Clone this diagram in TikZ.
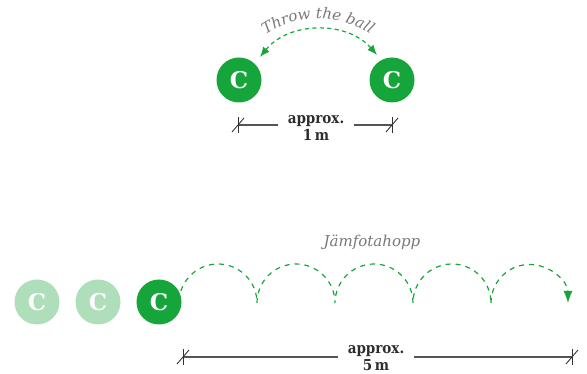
\documentclass[tikz,border=0pt]{standalone}
\usepackage{fontspec}
\setmainfont{DejaVu Serif}
\newfontfamily\dimfont{DejaVu Serif Condensed}
\usetikzlibrary{arrows.meta,decorations.text}
\definecolor{kgreen}{RGB}{22,165,58}
\definecolor{klight}{RGB}{174,222,186}
\definecolor{dimgray}{RGB}{85,85,85}
\definecolor{txtgray}{RGB}{120,120,120}
\definecolor{lblgray}{RGB}{45,45,45}
\tikzset{
  player/.style={circle,fill=kgreen,minimum size=45pt,inner sep=0pt,text=white,font=\bfseries\fontsize{23}{23}\selectfont},
  ghost/.style={player,fill=klight},
  dimline/.style={draw=dimgray,line width=1.1pt},
  dimtick/.style={draw=black!80,line width=0.9pt},
  dimlabel/.style={align=center,text=lblgray,font=\dimfont\bfseries\fontsize{15}{17}\selectfont,inner sep=0pt},
  hop/.style={draw=kgreen,line width=1.2pt,dash pattern=on 5pt off 5pt},
  throwarc/.style={draw=kgreen,line width=1.2pt,dash pattern=on 4pt off 3.5pt,{Latex[length=10pt,width=8pt]}-{Latex[length=10pt,width=8pt]}},
  note/.style={text=txtgray,font=\itshape\fontsize{15}{15}\selectfont}
}
\newcommand{\mytick}[1]{%
  \draw[dimtick] ([yshift=-8pt]#1) -- ([yshift=8pt]#1);
  \draw[dimtick] ([xshift=-6pt,yshift=-7pt]#1) -- ([xshift=6pt,yshift=7pt]#1);}
\begin{document}
\begin{tikzpicture}[x=1pt,y=1pt]
\useasboundingbox (0,0) rectangle (587,374);
% top
\node[player] (pA) at (239,294) {C};
\node[player] (pB) at (392,294) {C};
\coordinate (aL) at (260,317);
\coordinate (aR) at (377,319);
\draw[throwarc] (aL) to[bend left=50] (aR);
\coordinate (tb) at (251.5,328);
\path[decorate,decoration={text along path,text align=center,
  text={|\itshape\fontsize{15}{15}\selectfont\color{txtgray}|Throw the ball}}]
  (tb) arc[start angle=135,end angle=45,radius=94];
\coordinate (t1) at (238,249);
\coordinate (t2) at (392,249);
\node[dimlabel] (l1) at (316,246) {approx.\\1\,m};
\draw[dimline] (t1) -- ([xshift=-10pt]t1 -| l1.west);
\draw[dimline] ([xshift=10pt]t2 -| l1.east) -- (t2);
\mytick{t1}
\mytick{t2}
% bottom
\node[ghost] (g1) at (37,72) {C};
\node[ghost] (g2) at (98,72) {C};
\node[player] (p3) at (159,72) {C};
\node[note] (jf) at (372,132) {Jämfotahopp};
\coordinate (h0) at (180.9,83.05);
\draw[hop] (h0) arc[start angle=162,end angle=0,radius=39] coordinate (h1)
  arc[start angle=180,end angle=0,radius=39] coordinate (h2)
  arc[start angle=180,end angle=0,radius=39] coordinate (h3)
  arc[start angle=180,end angle=0,radius=39] coordinate (h4);
\draw[hop,-{Latex[length=12pt,width=9pt]}] (h4) arc[start angle=180,end angle=0,radius=38.5] coordinate (h5);
\coordinate (b1) at (183,17);
\coordinate (b2) at (572,17);
\node[dimlabel] (l2) at (376,16) {approx.\\5\,m};
\draw[dimline] (b1) -- ([xshift=-10pt]b1 -| l2.west);
\draw[dimline] ([xshift=10pt]b2 -| l2.east) -- (b2);
\mytick{b1}
\mytick{b2}
\end{tikzpicture}
\end{document}
